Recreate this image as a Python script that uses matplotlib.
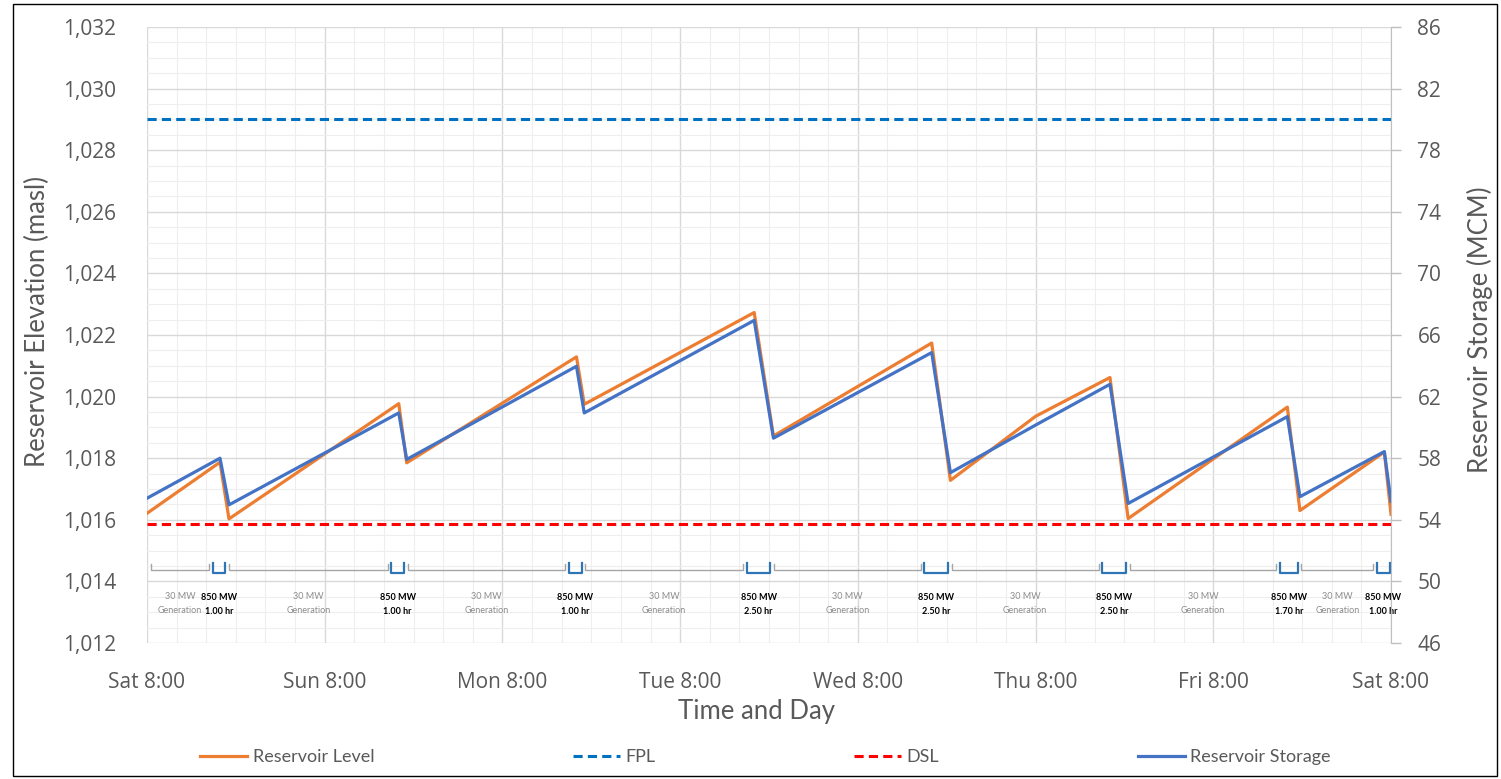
import matplotlib
matplotlib.use('Agg')
import matplotlib.pyplot as plt
from matplotlib.ticker import MultipleLocator, FuncFormatter

# hours after Sat 8:00
hours = [0, 9.86, 11.07, 34.0, 35.07, 58.0, 59.05, 82.0, 84.6, 105.97, 108.5,
         120.0, 130.05, 132.5, 154.0, 155.7, 167.1, 168.0]
level = [1016.21, 1017.87, 1016.03, 1019.77, 1017.85, 1021.29, 1019.75, 1022.73,
         1018.72, 1021.74, 1017.28, 1019.36, 1020.62, 1016.04, 1019.66, 1016.30,
         1018.20, 1016.18]
storage = [55.40, 58.00, 54.97, 60.94, 57.92, 63.97, 60.94, 66.95, 59.30, 64.86,
           57.06, 60.15, 62.80, 55.06, 60.70, 55.50, 58.43, 55.20]

fpl = 1029.0
dsl = 1015.85

day_hours = [0, 24, 48, 72, 96, 120, 144, 168]
day_labels = ['Sat 8:00', 'Sun 8:00', 'Mon 8:00', 'Tue 8:00', 'Wed 8:00',
              'Thu 8:00', 'Fri 8:00', 'Sat 8:00']
storage_ticks = [46, 50, 54, 58, 62, 66, 70, 74, 78, 82, 86]

# 850 MW generation periods
gen_start = [9.9, 34.0, 58.0, 82.0, 106.0, 130.0, 154.0, 167.1]
gen_dur = [1.00, 1.00, 1.00, 2.50, 2.50, 2.50, 1.70, 1.00]

GRAY = '#595959'
ORANGE = '#ED7D31'
BLUE = '#4472C4'

fig = plt.figure(figsize=(15.01, 7.79), dpi=100)
ax = fig.add_axes([147 / 1501, 1 - 643 / 779, (1391 - 147) / 1501, (643 - 27) / 779])
ax2 = ax.twinx()

ax.set_xlim(0, 168)
ax.set_ylim(1012, 1032)
ax2.set_ylim(46, 86)

ax.xaxis.set_minor_locator(MultipleLocator(4))
ax.yaxis.set_major_locator(MultipleLocator(2))
ax.yaxis.set_minor_locator(MultipleLocator(0.5))
ax.grid(which='major', color='#D9D9D9', lw=1.0)
ax.grid(which='minor', color='#EEEEEE', lw=0.8)
ax.set_axisbelow(True)

ax.set_xticks(day_hours)
ax.set_xticklabels(day_labels)
ax.yaxis.set_major_formatter(FuncFormatter(lambda v, p: f'{v:,.0f}'))
ax.tick_params(which='both', length=0)
ax.tick_params(axis='y', pad=22, labelsize=15, labelcolor=GRAY)
ax.tick_params(axis='x', pad=21, labelsize=15, labelcolor=GRAY)
for lab in ax.get_xticklabels() + ax.get_yticklabels():
    lab.set_family('Open Sans')

ax2.set_yticks(storage_ticks)
ax2.tick_params(axis='y', length=7, width=1, color='#BFBFBF', pad=12,
                labelsize=15, labelcolor=GRAY)
for lab in ax2.get_yticklabels():
    lab.set_family('Open Sans')
for s in ax.spines.values():
    s.set_visible(False)
for name, s in ax2.spines.items():
    s.set_visible(name == 'right')
ax2.spines['right'].set_color('#BFBFBF')

l1, = ax.plot(hours, level, color=ORANGE, lw=2.3, label='Reservoir Level')
l2, = ax.plot([0, 168], [fpl, fpl], color='#0070C0', lw=2.2, ls=(0, (3, 1.7)), label='FPL')
l3, = ax.plot([0, 168], [dsl, dsl], color='#FF0000', lw=2.2, ls=(0, (3, 1.7)), label='DSL')
l4, = ax2.plot(hours, storage, color=BLUE, lw=2.3, label='Reservoir Storage')

# generation schedule annotations
y_line, y_tick, y_bot = 1014.37, 1014.55, 1014.27
u_left = [s - 1.0 for s in gen_start]
u_right = [min(s + d - 0.3, 168) for s, d in zip(gen_start, gen_dur)]
seg_left = [0.5] + [r + 0.5 for r in u_right[:-1]]
seg_right = [l - 0.5 for l in u_left]
for a, b in zip(seg_left, seg_right):
    ax.plot([a, a, b, b], [y_tick, y_line, y_line, y_tick], color='#A6A6A6', lw=1)
    ax.text((a + b) / 2, 1013.5, '30 MW', ha='center', va='center', fontsize=6.5,
            color='#8C8C8C', family='Lato')
    ax.text((a + b) / 2, 1013.05, 'Generation', ha='center', va='center', fontsize=6.5,
            color='#8C8C8C', family='Lato')
for a, b, s, d in zip(u_left, u_right, gen_start, gen_dur):
    xs = [a, a, b, b] if b < 168 else [a, a, b]
    ys = [y_tick + 0.05, y_bot, y_bot, y_tick + 0.05][:len(xs)]
    ax.plot(xs, ys, color='#2E75B6', lw=1.6, clip_on=False)
    cx = (a + b) / 2 if b < 168 else a + 3.5
    ax.text(cx, 1013.48, '850 MW', ha='center', va='center', fontsize=6.5,
            color='black', family='Lato', weight='bold', clip_on=False)
    ax.text(cx, 1013.03, f'{d:.2f} hr', ha='center', va='center', fontsize=6.5,
            color='black', family='Lato', weight='bold', clip_on=False)

fig.text(37 / 1501, 1 - 322 / 779, 'Reservoir Elevation (masl)', rotation=90,
         ha='center', va='center', fontsize=18.5, color=GRAY, family='Lato')
fig.text(1480 / 1501, 1 - 330 / 779, 'Reservoir Storage (MCM)', rotation=90,
         ha='center', va='center', fontsize=18.5, color=GRAY, family='Lato')
fig.text(757 / 1501, 1 - 712 / 779, 'Time and Day', ha='center', va='center',
         fontsize=18.5, color=GRAY, family='Lato')

leg = fig.legend(handles=[l1, l2, l3, l4], loc='center', bbox_to_anchor=(0.51, 1 - 757 / 779),
                 ncol=4, frameon=False, handlelength=2.6, columnspacing=11,
                 handletextpad=0.3, prop={'family': 'Lato', 'size': 13})
for t in leg.get_texts():
    t.set_color(GRAY)

fig.add_artist(plt.Rectangle((13 / 1501, 3 / 779), 1484 / 1501, 772 / 779,
                             transform=fig.transFigure, fill=False, ec='black', lw=1))

fig.savefig('out.png', dpi=100)
